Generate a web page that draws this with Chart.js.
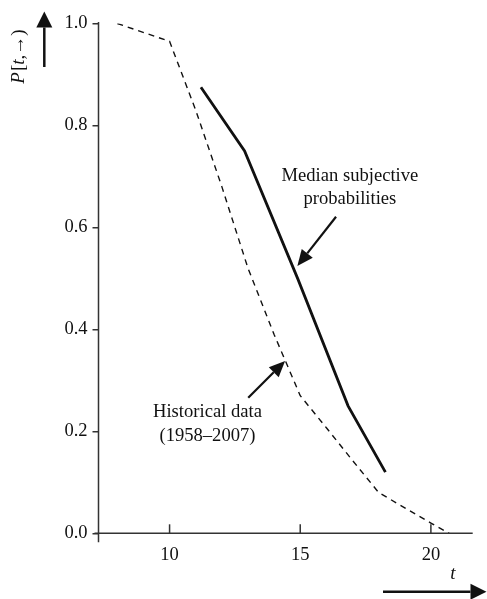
<!DOCTYPE html>
<html><head><meta charset="utf-8">
<script src="https://cdn.jsdelivr.net/npm/chart.js@4/dist/chart.umd.min.js"></script>
<style>html,body{margin:0;padding:0;background:#fff}#wrap{width:487px;height:599px;position:relative}</style>
</head><body><div id="wrap"><canvas id="c"></canvas></div>
<script>
// ---- data ----
const historicalT = [8, 10, 11, 12, 13, 14, 15, 16, 17, 18, 19, 20, 20.7];
const historicalP = [1.0, 0.965, 0.83, 0.68, 0.52, 0.39, 0.27, 0.207, 0.143, 0.08, 0.05, 0.02, 0.0];
const subjectiveT = [11.2, 12.87, 14.9, 16.83, 18.26];
const subjectiveP = [0.875, 0.75, 0.5, 0.25, 0.12];
const xTicks = [10, 15, 20];
const yTicks = [0, 0.2, 0.4, 0.6, 0.8, 1.0];
const medianLabel = ["Median subjective", "probabilities"];
const historicalLabel = ["Historical data", "(1958\u20132007)"];

const SERIF = '"Liberation Serif", "Times New Roman", serif';
const INK = '#111';

function toXY(ts, ps) { return ts.map((t, i) => ({ x: t, y: ps[i] })); }

function arrow(ctx, x1, y1, x2, y2, hl, hw) {
  const a = Math.atan2(y2 - y1, x2 - x1);
  const bx = x2 - hl * Math.cos(a), by = y2 - hl * Math.sin(a);
  ctx.beginPath(); ctx.moveTo(x1, y1); ctx.lineTo(bx, by); ctx.stroke();
  ctx.beginPath();
  ctx.moveTo(x2, y2);
  ctx.lineTo(bx + hw / 2 * Math.sin(a), by - hw / 2 * Math.cos(a));
  ctx.lineTo(bx - hw / 2 * Math.sin(a), by + hw / 2 * Math.cos(a));
  ctx.closePath(); ctx.fill();
}

const decor = {
  id: 'decor',
  afterDraw(chart) {
    const ctx = chart.ctx, xs = chart.scales.x, ys = chart.scales.y, ca = chart.chartArea;
    const y0 = ys.getPixelForValue(0), y1 = ys.getPixelForValue(1);
    ctx.save();
    ctx.strokeStyle = '#333'; ctx.fillStyle = INK; ctx.lineWidth = 1.5;
    // axes
    ctx.beginPath(); ctx.moveTo(ca.left, y1 - 1.5); ctx.lineTo(ca.left, y0 + 9); ctx.stroke();
    ctx.beginPath(); ctx.moveTo(ca.left - 4, y0); ctx.lineTo(ca.right, y0); ctx.stroke();
    xTicks.forEach(v => {
      const px = xs.getPixelForValue(v);
      ctx.beginPath(); ctx.moveTo(px, y0); ctx.lineTo(px, y0 - 9); ctx.stroke();
    });
    // annotations
    ctx.fillStyle = INK; ctx.font = '18.6px ' + SERIF; ctx.textAlign = 'center'; ctx.textBaseline = 'middle';
    ctx.fillText(medianLabel[0], xs.getPixelForValue(16.9), ys.getPixelForValue(0.701));
    ctx.fillText(medianLabel[1], xs.getPixelForValue(16.9), ys.getPixelForValue(0.655));
    ctx.fillText(historicalLabel[0], xs.getPixelForValue(11.45), ys.getPixelForValue(0.237));
    ctx.fillText(historicalLabel[1], xs.getPixelForValue(11.45), ys.getPixelForValue(0.19));
    ctx.strokeStyle = INK; ctx.lineWidth = 2.2;
    arrow(ctx, xs.getPixelForValue(16.37), ys.getPixelForValue(0.621), xs.getPixelForValue(14.89), ys.getPixelForValue(0.5245), 16, 14);
    arrow(ctx, xs.getPixelForValue(13.01), ys.getPixelForValue(0.266), xs.getPixelForValue(14.42), ys.getPixelForValue(0.338), 16, 14);
    // y-axis title P[t,→) rotated
    ctx.save();
    ctx.translate(19, 57); ctx.rotate(-Math.PI / 2);
    const parts = [['italic ', 'P'], ['', '['], ['italic ', 't'], ['', ',\u2192)']];
    let total = 0;
    parts.forEach(p => { ctx.font = p[0] + '19px ' + SERIF; total += ctx.measureText(p[1]).width; });
    let cx = -total / 2;
    ctx.textAlign = 'left'; ctx.textBaseline = 'middle';
    parts.forEach(p => { ctx.font = p[0] + '19px ' + SERIF; ctx.fillText(p[1], cx, 0); cx += ctx.measureText(p[1]).width + (p[1]==='P'?1:0); });
    ctx.restore();
    ctx.lineWidth = 2.5;
    arrow(ctx, 44.3, 67, 44.3, 11.5, 16, 16);
    // x-axis title t
    ctx.font = 'italic 19px ' + SERIF; ctx.textAlign = 'center'; ctx.textBaseline = 'middle';
    ctx.fillText('t', 453, 574);
    arrow(ctx, 383, 591.7, 486.5, 591.7, 16, 16);
    ctx.restore();
  }
};

new Chart(document.getElementById('c'), {
  type: 'line',
  data: {
    datasets: [
      { label: 'Historical data (1958\u20132007)', data: toXY(historicalT, historicalP), borderColor: INK, borderWidth: 1.4, borderDash: [6, 5], pointRadius: 0, tension: 0, fill: false },
      { label: 'Median subjective probabilities', data: toXY(subjectiveT, subjectiveP), borderColor: INK, borderWidth: 2.8, pointRadius: 0, tension: 0, fill: false, borderCapStyle: 'butt' }
    ]
  },
  options: {
    responsive: true, maintainAspectRatio: false, animation: false,
    devicePixelRatio: 1,
    layout: { padding: { top: 23.5, right: 14.3, left: 0, bottom: 0 } },
    plugins: { legend: { display: false }, tooltip: { enabled: false } },
    scales: {
      x: {
        type: 'linear', min: 7.28, max: 21.6,
        afterBuildTicks: s => { s.ticks = xTicks.map(v => ({ value: v })); },
        afterFit: s => { s.height = 65.7; },
        grid: { display: false, drawTicks: false },
        border: { display: false },
        ticks: { color: INK, font: { family: SERIF, size: 18.5 }, padding: 11, maxRotation: 0, autoSkip: false, callback: v => String(v) }
      },
      y: {
        type: 'linear', min: 0, max: 1,
        afterBuildTicks: s => { s.ticks = yTicks.map(v => ({ value: v })); },
        afterFit: s => { s.width = 98.5; },
        grid: { display: true, drawOnChartArea: false, drawTicks: true, tickLength: 6, color: '#333', lineWidth: 1.5 },
        border: { display: false },
        ticks: { color: INK, font: { family: SERIF, size: 18.5 }, padding: 5, autoSkip: false, callback: v => Number(v).toFixed(1) }
      }
    }
  },
  plugins: [decor]
});
</script>
</body></html>
